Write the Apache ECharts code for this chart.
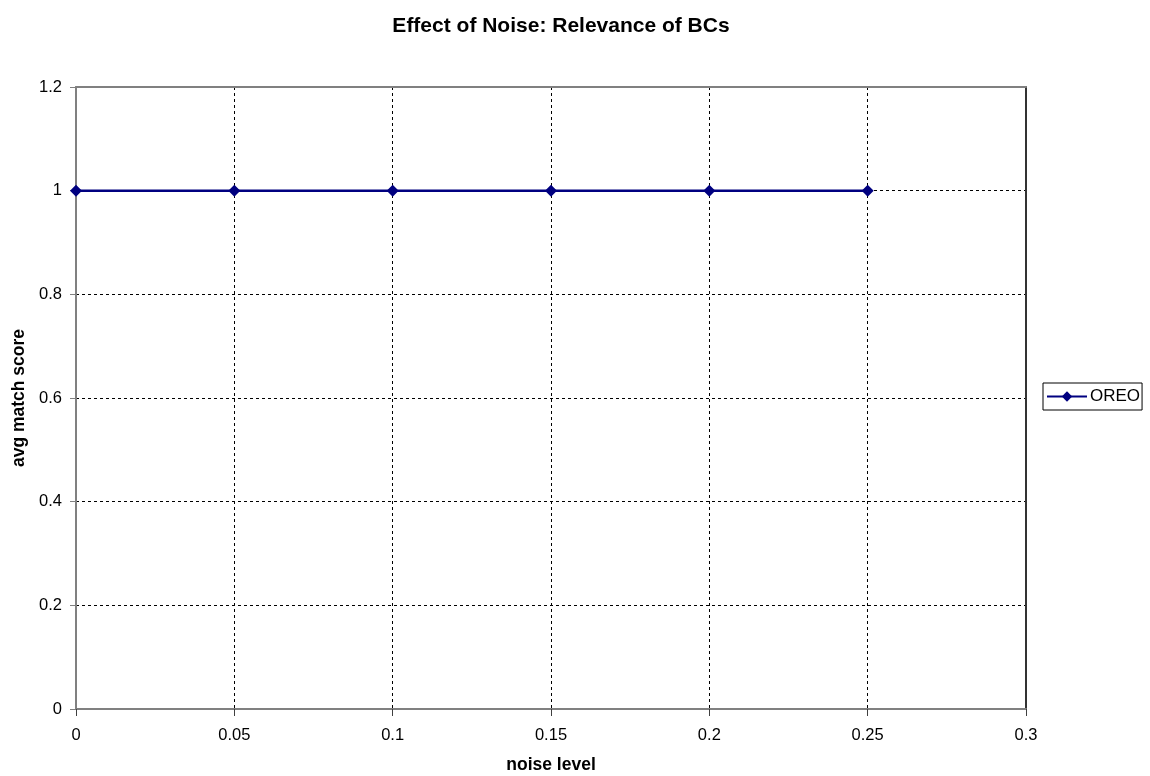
<!DOCTYPE html>
<html>
<head>
<meta charset="utf-8">
<script src="https://cdn.jsdelivr.net/npm/echarts@6/dist/echarts.min.js"></script>
<style>html,body{margin:0;padding:0;background:#fff}#c{width:1150px;height:776px}</style>
</head>
<body>
<div id="c"></div>
<script>
var noiseLevels = [0, 0.05, 0.1, 0.15, 0.2, 0.25];
var oreoScores = [1, 1, 1, 1, 1, 1];
var seriesName = 'OREO';
var titleText = 'Effect of Noise: Relevance of BCs';

var chart = echarts.init(document.getElementById('c'), null, {renderer: 'canvas'});
var font = 'Liberation Sans, Arial, sans-serif';
var grid = {left: 76, right: 124, top: 87, bottom: 67, show: false, outerBoundsMode: 'none', containLabel: false};
chart.setOption({
  animation: false,
  backgroundColor: '#fff',
  title: {
    text: titleText, left: 556, textAlign: 'center', top: 11,
    textStyle: {fontFamily: font, fontSize: 21, fontWeight: 'bold', color: '#000'}
  },
  grid: grid,
  legend: {
    orient: 'vertical', left: 1043, top: 383,
    data: [seriesName],
    borderColor: '#000', borderWidth: 1, padding: [5, 2, 5, 3],
    itemWidth: 40, itemHeight: 13, itemGap: 0,
    textStyle: {fontFamily: font, fontSize: 17, color: '#000', padding: [0, 0, 0, -2]}
  },
  xAxis: [{
    type: 'value', min: 0, max: 0.3, interval: 0.05,
    name: 'noise level', nameLocation: 'middle', nameGap: 47,
    nameTextStyle: {fontFamily: font, fontSize: 17.5, fontWeight: 'bold', color: '#000'},
    axisLine: {show: true, lineStyle: {color: '#808080', width: 2}},
    axisTick: {show: true, inside: false, length: 7, lineStyle: {color: '#404040'}},
    axisLabel: {fontFamily: font, fontSize: 16.5, color: '#000', margin: 18},
    splitLine: {show: true, lineStyle: {type: [3, 3], color: '#000', width: 1}}
  }, {
    type: 'value', min: 0, max: 0.3, position: 'top',
    axisLine: {show: true, onZero: false, lineStyle: {color: '#808080', width: 2}},
    axisTick: {show: false}, axisLabel: {show: false}, splitLine: {show: false}
  }],
  yAxis: [{
    type: 'value', min: 0, max: 1.2, interval: 0.2,
    name: 'avg match score', nameLocation: 'middle', nameGap: 48,
    nameTextStyle: {fontFamily: font, fontSize: 17.5, fontWeight: 'bold', color: '#000'},
    axisLine: {show: true, lineStyle: {color: '#808080', width: 2}},
    axisTick: {show: true, inside: false, length: 6, lineStyle: {color: '#808080'}},
    axisLabel: {fontFamily: font, fontSize: 16.5, color: '#000', margin: 14},
    splitLine: {show: true, lineStyle: {type: [3, 3], color: '#000', width: 1}}
  }, {
    type: 'value', min: 0, max: 1.2, position: 'right',
    axisLine: {show: true, onZero: false, lineStyle: {color: '#333', width: 2}},
    axisTick: {show: false}, axisLabel: {show: false}, splitLine: {show: false}
  }],
  series: [{
    name: seriesName, type: 'line',
    data: noiseLevels.map(function (x, i) { return [x, oreoScores[i]]; }),
    symbol: 'diamond', symbolSize: 12,
    lineStyle: {color: '#000080', width: 2.5},
    itemStyle: {color: '#000080'}
  }]
});
</script>
</body>
</html>
